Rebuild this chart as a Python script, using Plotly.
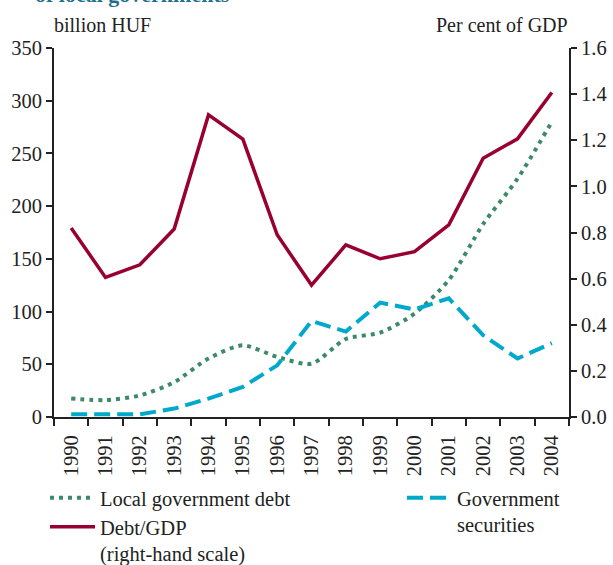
import plotly.graph_objects as go

years = [str(y) for y in range(1990, 2005)]
local_debt = [17.5, 16, 20.5, 33, 55.5, 68, 57, 50.5, 74, 80, 98, 130, 183, 226, 280]
gov_securities = [2.5, 2.5, 2.5, 8, 17.5, 28.5, 49, 91, 81, 108.5, 102, 112.5, 77.5, 55.5, 70]
debt_gdp = [0.82, 0.605, 0.66, 0.815, 1.31, 1.205, 0.79, 0.572, 0.746, 0.686, 0.717, 0.833, 1.122, 1.206, 1.407]

FONT = "Liberation Serif"
TICKFS = 20.5
LEGFS = 20.5
TITLEFS = 20
RED = "#980030"
GREEN = "#3d8a68"
BLUE = "#00a9cc"
INK = "#222222"

L, R, T, B = 54, 44, 48, 148
W, H = 613, 565
pw, ph = W - L - R, H - T - B

def px(x):
    return (x - L) / pw

def py(y):
    return (H - B - y) / ph

fig = go.Figure()
fig.add_trace(go.Scatter(x=years, y=local_debt, name="Local government debt", mode="lines",
                         line=dict(color=GREEN, width=4, dash="4px,5px", shape="spline", smoothing=0.7),
                         legend="legend"))
fig.add_trace(go.Scatter(x=years, y=gov_securities, name="Government<br>securities", mode="lines",
                         line=dict(color=BLUE, width=4, dash="16px,7px"),
                         legend="legend2"))
fig.add_trace(go.Scatter(x=years, y=debt_gdp, name="Debt/GDP<br>(right-hand scale)", mode="lines",
                         line=dict(color=RED, width=3.5), yaxis="y2",
                         legend="legend3"))

legfont = dict(family=FONT, size=LEGFS, color=INK)
common_leg = dict(font=legfont, bgcolor="rgba(0,0,0,0)", valign="top", itemwidth=45,
                  xanchor="left", yanchor="top", tracegroupgap=0)
tickfont = dict(family=FONT, size=TICKFS, color=INK)

fig.update_layout(
    width=W, height=H,
    margin=dict(l=L, r=R, t=T, b=B, autoexpand=False),
    paper_bgcolor="white", plot_bgcolor="white",
    font=dict(family=FONT, size=TICKFS, color=INK),
    showlegend=True,
    legend=dict(x=px(45), y=py(478), **common_leg),
    legend2=dict(x=px(402), y=py(478), **common_leg),
    legend3=dict(x=px(45), y=py(507), **common_leg),
    xaxis=dict(type="category", range=[-0.5, 14.5], automargin=False,
               showline=True, linecolor=INK, linewidth=2,
               ticks="outside", tickson="boundaries", ticklen=7, tickwidth=2, tickcolor=INK,
               tickangle=-90, ticklabelstandoff=8, showgrid=False, zeroline=False, mirror=False,
               tickfont=tickfont),
    yaxis=dict(range=[0, 350], dtick=50, automargin=False, showline=True, linecolor=INK, linewidth=2,
               ticks="outside", ticklen=6, tickwidth=2, tickcolor=INK,
               showgrid=False, zeroline=False, tickfont=tickfont),
    yaxis2=dict(range=[0, 1.6], dtick=0.2, tickformat=".1f", overlaying="y", side="right",
                automargin=False, showline=True, linecolor=INK, linewidth=2,
                ticks="outside", ticklen=6, tickwidth=2, tickcolor=INK,
                showgrid=False, zeroline=False, tickfont=tickfont),
    annotations=[
        dict(text="billion HUF", x=px(102), y=py(25), xref="paper", yref="paper",
             showarrow=False, xanchor="center", yanchor="middle",
             font=dict(family=FONT, size=TITLEFS, color=INK)),
        dict(text="Per cent of GDP", x=px(502), y=py(25), xref="paper", yref="paper",
             showarrow=False, xanchor="center", yanchor="middle",
             font=dict(family=FONT, size=TITLEFS, color=INK)),
        dict(text="<b>of local governments</b>", x=px(33), y=py(9), xref="paper", yref="paper",
             showarrow=False, xanchor="left", yanchor="bottom",
             font=dict(family=FONT, size=22, color="#1f6f8f")),
    ],
)

fig.write_html("out.html", config={"displayModeBar": False},
               post_script="document.body.style.margin='0px';document.body.style.overflow='hidden';")
